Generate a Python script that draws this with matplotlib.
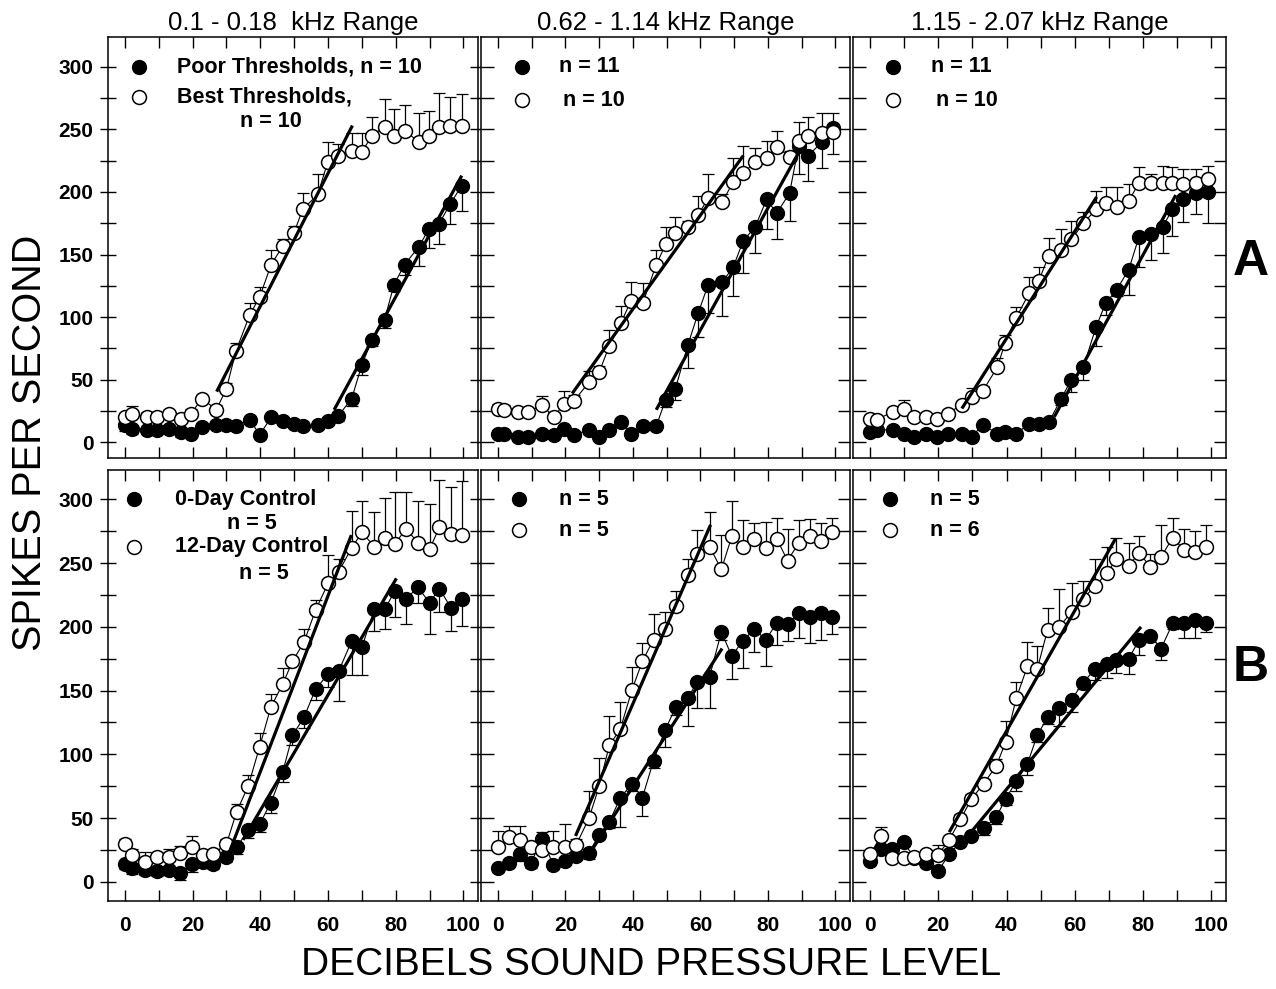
import numpy as np
import matplotlib
matplotlib.use("Agg")
import matplotlib.pyplot as plt

plt.rcParams['font.family'] = ['Liberation Sans', 'DejaVu Sans']

# ---- data (dB SPL, spikes/s) ----
# top row: A
tl_x = [0, 2, 6.5, 9.5, 13, 16.6, 19.6, 22.7, 27, 30, 32.8, 36.9, 39.8, 43.2, 46.7, 49.9,
        52.5, 57, 59.9, 63, 67, 70, 73, 76.7, 79.5, 82.6, 86.8, 89.7, 92.7, 96, 99.5]
tl_open = [20.5, 23, 20, 20, 22.6, 19, 23, 35, 26, 43, 73, 102, 116, 142, 157, 167,
           186, 198, 224, 229, 233, 232, 245, 252, 245, 249, 240, 245, 252, 253, 253]
tl_open_err = [3, 6, 4, 3, 3, 3, 4, 3, 4, 4, 6, 9, 8, 12, 5, 6, 13, 16, 16, 9, 14, 15,
               15, 22, 21, 20, 23, 20, 27, 23, 25]
tl_fill = [14, 11, 10, 10, 11, 8.5, 7, 12.5, 14, 14, 13, 18, 6, 20, 17, 15, 13, 14, 17,
           21, 35, 62, 82, 98, 126, 142, 156, 170, 174, 190, 205]
tl_fill_err = [5, 4, 3, 3, 3, 4, 3, 3, 3, 3, 3, 3, 3, 3, 3, 3, 3, 3, 3, 4, 6, 8, 5, 7,
               5, 8, 15, 15, 16, 16, 20]
tl_open_fit = ([27.1, 67.2], [40.5, 253])
tl_fill_fit = ([61.8, 99.5], [26, 213])

tm_x = [0, 1.7, 6, 9, 13, 16.6, 19.6, 22.5, 27, 30, 33, 36.4, 39.4, 42.9, 46.9, 49.7,
        52.6, 56.3, 59.3, 62.3, 66.5, 69.7, 72.7, 76.2, 79.6, 82.6, 86.4, 89.1, 92, 96, 99.3]
tm_open = [27, 26, 24, 24, 30, 20, 31, 33, 48, 56, 77, 95, 113, 111, 142, 158, 167, 172,
           181.5, 195, 192, 208, 215, 224, 227, 236, 228, 241, 245, 247, 248]
tm_open_err = [4, 4, 3, 3, 7, 4, 10, 5, 9, 5, 13, 14, 15, 16, 12, 14, 13, 5, 15, 19, 6,
               19, 22, 11, 14, 13, 5, 15, 15, 16, 15]
tm_fill = [7, 7, 4, 4.5, 7, 6, 11, 6, 10, 4.5, 10, 16, 6.6, 13, 13, 34, 43, 78, 103, 126,
           128, 140, 161, 172, 194, 183, 199, 237, 229, 240, 251]
tm_fill_err = [3, 3, 3, 3, 3, 3, 3, 3, 3, 3, 3, 3, 3, 3, 3, 6, 9, 19, 19, 23, 27, 23, 26,
               21, 24, 21, 22, 23, 20, 21, 21]
tm_open_fit = ([22, 72.7], [39, 229])
tm_fill_fit = ([46.9, 89], [26, 231])

tr_x = [0, 2, 6.6, 9.9, 13, 16.5, 19.5, 22.7, 26.9, 29.8, 33, 37.3, 39.5, 42.7, 46.6, 49.4,
        52.4, 56, 59, 62.5, 66.2, 69, 72.3, 75.8, 78.8, 82.2, 85.7, 88.6, 91.6, 95.6, 99]
tr_open = [19, 18, 24.5, 27, 20, 20, 19, 23, 30, 36.5, 41, 60, 79, 99, 119, 129, 149, 154,
           162, 175, 186, 191, 188, 193, 207, 207, 207, 207, 206, 207, 210]
tr_open_err = [3, 3, 3, 7, 3, 3, 3, 3, 3, 7, 4, 7, 7, 9, 13, 11, 14, 16, 15, 9, 15, 13,
               16, 13, 13, 7, 14, 13, 12.5, 11, 11]
tr_fill = [8.5, 10, 10, 7, 4.5, 7, 4.5, 6.6, 7, 4.5, 14, 7, 8.5, 6.6, 15, 15, 16, 35, 50,
           60, 92, 111, 122, 138, 164, 166, 172, 186, 194, 199, 200]
tr_fill_err = [3, 3, 3, 3, 3, 3, 3, 3, 3, 3, 3, 3, 3, 3, 3, 3, 3, 5, 10, 10, 15, 9, 5, 20,
               24, 20, 21, 21, 18, 17, 25]
tr_open_fit = ([26.9, 66.4], [27, 196])
tr_fill_fit = ([54, 89.6], [20.5, 197.5])

# bottom row: B
bl_x = [0, 2.2, 6, 9.6, 13, 16.4, 19.8, 23, 26, 30, 33, 36.4, 39.8, 43.1, 46.6, 49.5,
        52.9, 56.3, 60, 63.1, 67, 70, 73.7, 76.8, 79.7, 83.1, 86.5, 90, 92.9, 96.3, 99.7]
bl_open = [29.7, 21, 15.7, 19.2, 19.7, 22.8, 27, 21, 21.8, 29.7, 55, 75, 106, 137, 155,
           173, 188, 213, 234, 243, 262, 274, 263, 270, 265, 277, 266, 261, 278, 273, 272]
bl_open_err = [4, 5, 8, 4, 6, 5, 9, 4, 4, 4, 6, 9, 10.5, 10, 13, 3, 10, 8, 22, 10, 29, 25,
               27, 31, 41, 29, 33, 35, 37, 37, 42]
bl_fill = [14, 10.5, 9, 8.7, 9, 6.6, 14, 15.7, 14.4, 19.7, 27, 40.7, 45.4, 62, 86, 115,
           129, 151, 163, 165, 189, 184, 214, 214, 228, 222, 231, 219, 230, 215, 222]
bl_fill_err = [4, 4, 4, 4, 4, 5, 6, 4, 4, 4, 5, 6, 6, 8, 8, 8, 8, 8, 10, 23, 27, 22, 17,
               16, 20, 20, 12, 25, 18, 18, 21]
bl_open_fit = ([29.5, 66.9], [14, 272])
bl_fill_fit = ([34.9, 80.2], [33, 238])

bm_x = [0, 3.2, 6.6, 9.8, 13.2, 16.4, 19.9, 23.2, 27, 30, 33, 36.3, 39.7, 42.8, 46.1, 49.5,
        52.7, 56.2, 59.1, 62.7, 66.2, 69.3, 72.5, 75.9, 79.4, 82.6, 85.8, 89.2, 92.5, 95.6, 99]
bm_open = [27, 35, 33, 27, 25, 27, 27, 29, 50, 75, 107, 120, 150.5, 173, 190, 198, 216,
           241, 257, 263, 245, 271, 263, 269, 261.5, 269, 252, 266, 271.5, 267.6, 274]
bm_open_err = [13, 9, 10.5, 5, 14, 13, 18, 5, 21.5, 22, 23, 21, 18, 14, 20, 14, 12, 12,
               19, 27, 27, 28, 21, 12.6, 20.5, 16, 25, 18, 13, 14, 11]
bm_fill = [10.5, 15, 21.6, 15, 34, 13, 16, 20, 23, 37, 47, 66, 77, 66, 95, 119, 137, 144,
           157, 161, 196, 177, 189, 198, 190, 203, 202, 211, 208, 211, 208]
bm_fill_err = [3, 3, 5, 4, 3, 3, 3, 3, 5, 3, 5, 23, 6, 14.5, 6, 13, 6, 22, 21, 25, 6, 18,
               21, 18, 21, 17, 13, 20, 21, 21, 14]
bm_open_fit = ([23, 63], [36, 280])
bm_fill_fit = ([27, 66.4], [21.6, 183])

br_x = [0, 3.2, 6.4, 9.8, 13, 16.4, 19.9, 23.2, 26.5, 29.7, 33.3, 37, 39.7, 42.9, 46.1, 49,
        52, 55.5, 59.1, 62.3, 66, 69.3, 72.2, 75.8, 78.9, 82.1, 85.3, 88.7, 91.9, 95.1, 98.3]
br_open = [21.5, 36, 19, 18.4, 19.4, 22, 21, 33, 49, 65, 77, 91, 109.5, 144.5, 169, 167,
           197.5, 200, 212, 222, 232, 242, 253, 248, 258, 247, 255, 270, 260.5, 259, 262.6]
br_open_err = [3, 7, 3, 3, 3, 3, 8, 3, 4, 4, 4, 5, 17, 12, 19, 18, 17, 30, 22, 14, 21, 21,
               17, 18, 13, 10.5, 25, 15, 16, 16, 17]
br_fill = [16, 25.5, 25.5, 31, 19, 15, 8.4, 21.5, 31.5, 36, 42, 51, 65, 79, 92.5, 115, 129,
           136, 143, 156, 167, 171, 174, 175, 190, 193, 183, 203, 203, 205.4, 203]
br_fill_err = [3, 3, 3, 3, 3, 3, 3, 3, 3, 3, 5, 6, 5, 8, 9, 5, 5, 14, 10, 5, 9, 11, 10,
               12, 12, 5, 9, 5, 12, 14, 7]
br_open_fit = ([23.2, 71.9], [39, 269])
br_fill_fit = ([26.5, 79.4], [29, 200])

titles = ["0.1 - 0.18  kHz Range", "0.62 - 1.14 kHz Range", "1.15 - 2.07 kHz Range"]

W, H = 1276, 989
fig = plt.figure(figsize=(W / 100, H / 100), dpi=100)
fig.patch.set_facecolor('white')

cols = [(108, 478), (481, 850), (853, 1226)]
rows = [(37, 458), (470, 901)]
MS = 10


def make_ax(c, r):
    x0, x1 = cols[c]
    y0, y1 = rows[r]
    return fig.add_axes([x0 / W, 1 - y1 / H, (x1 - x0) / W, (y1 - y0) / H])


def draw(ax, x, oy, oe, fy, fe, ofit, ffit):
    x = np.array(x)
    z = np.zeros(len(x))
    ax.errorbar(x, fy, yerr=[fe, z], fmt='none', ecolor='k', elinewidth=0.9,
                capsize=4.5, capthick=0.9, zorder=2)
    ax.errorbar(x, oy, yerr=[z, oe], fmt='none', ecolor='k', elinewidth=0.9,
                capsize=4.5, capthick=0.9, zorder=2)
    ax.plot(x, fy, '-', color='k', lw=0.8, marker='o', ms=MS, mfc='k', mec='k', zorder=3)
    ax.plot(x, oy, '-', color='k', lw=0.8, marker='o', ms=MS, mfc='white', mec='k',
            mew=1.1, zorder=4)
    ax.plot(ofit[0], ofit[1], color='k', lw=2.3, solid_capstyle='butt', zorder=5)
    ax.plot(ffit[0], ffit[1], color='k', lw=2.3, solid_capstyle='butt', zorder=5)


def style(ax, c, r):
    ax.set_xlim(-5, 104.3)
    if r == 0:
        ax.set_ylim(-12.5, 323.7)
    else:
        ax.set_ylim(-15, 323)
    for s in ax.spines.values():
        s.set_linewidth(1.1)
    ax.set_xticks(range(0, 101, 10))
    if r == 1:
        ax.set_xticklabels([str(v) if v % 20 == 0 else '' for v in range(0, 101, 10)])
    else:
        ax.set_xticklabels([])
    ax.set_yticks(range(0, 301, 25))
    if c == 0:
        ax.set_yticklabels([str(v) if v % 50 == 0 else '' for v in range(0, 301, 25)])
    else:
        ax.set_yticklabels([])
    ax.tick_params(axis='x', direction='in', top=True, bottom=True, length=8, width=1,
                   pad=11, labelsize=15)
    ax.tick_params(axis='y', direction='inout' if c == 0 else 'in', left=True, right=True,
                   length=11 if c == 0 else 9, width=1, pad=5, labelsize=15)
    for lab in ax.get_xticklabels() + ax.get_yticklabels():
        lab.set_fontweight('bold')


def legend_marks(ax, mx, y1, y2):
    ax.plot([mx], [y1], 'o', ms=MS, mfc='k', mec='k', zorder=6)
    ax.plot([mx], [y2], 'o', ms=MS, mfc='white', mec='k', mew=1.1, zorder=6)


panels = [
    (0, 0, tl_x, tl_open, tl_open_err, tl_fill, tl_fill_err, tl_open_fit, tl_fill_fit),
    (1, 0, tm_x, tm_open, tm_open_err, tm_fill, tm_fill_err, tm_open_fit, tm_fill_fit),
    (2, 0, tr_x, tr_open, tr_open_err, tr_fill, tr_fill_err, tr_open_fit, tr_fill_fit),
    (0, 1, bl_x, bl_open, bl_open_err, bl_fill, bl_fill_err, bl_open_fit, bl_fill_fit),
    (1, 1, bm_x, bm_open, bm_open_err, bm_fill, bm_fill_err, bm_open_fit, bm_fill_fit),
    (2, 1, br_x, br_open, br_open_err, br_fill, br_fill_err, br_open_fit, br_fill_fit),
]
axes = {}
for c, r, x, oy, oe, fy, fe, ofit, ffit in panels:
    ax = make_ax(c, r)
    draw(ax, x, oy, oe, fy, fe, ofit, ffit)
    style(ax, c, r)
    axes[(c, r)] = ax
    if r == 0:
        ax.set_title(titles[c], fontsize=18.5, pad=5)

FS = 15.5
lt = dict(fontsize=FS, fontweight='bold', va='center', ha='left', zorder=7)
ct = dict(fontsize=FS, fontweight='bold', va='center', ha='center', zorder=7)

ax = axes[(0, 0)]
legend_marks(ax, 4.1, 300, 276)
ax.text(15.3, 300, "Poor Thresholds, n = 10", **lt)
ax.text(15.3, 276, "Best Thresholds,", **lt)
ax.text(43, 256, "n = 10", **ct)

ax = axes[(1, 0)]
legend_marks(ax, 7.1, 300, 273)
ax.text(18, 300, "n = 11", **lt)
ax.text(19.2, 273, "n = 10", **lt)

ax = axes[(2, 0)]
legend_marks(ax, 6.6, 300, 273)
ax.text(18, 300, "n = 11", **lt)
ax.text(19.2, 273, "n = 10", **lt)

ax = axes[(0, 1)]
legend_marks(ax, 2.7, 300, 263)
ax.text(14.9, 300, "0-Day Control", **lt)
ax.text(37.5, 281, "n = 5", **ct)
ax.text(14.9, 263, "12-Day Control", **lt)
ax.text(41, 241.5, "n = 5", **ct)

ax = axes[(1, 1)]
legend_marks(ax, 6.4, 300, 275.6)
ax.text(18.1, 300, "n = 5", **lt)
ax.text(18.1, 275.6, "n = 5", **lt)

ax = axes[(2, 1)]
legend_marks(ax, 5.9, 300, 275.6)
ax.text(17.6, 300, "n = 5", **lt)
ax.text(17.6, 275.6, "n = 6", **lt)

fig.text(30 / W, 1 - 443 / H, "SPIKES PER SECOND", rotation=90, fontsize=28.5,
         ha='center', va='center')
fig.text(651 / W, 1 - 965 / H, "DECIBELS SOUND PRESSURE LEVEL", fontsize=28,
         ha='center', va='center')
fig.text(1251 / W, 1 - 262 / H, "A", fontsize=36, fontweight='bold', ha='center', va='center')
fig.text(1251 / W, 1 - 668 / H, "B", fontsize=36, fontweight='bold', ha='center', va='center')

fig.savefig("out.png", dpi=100, facecolor='white')
